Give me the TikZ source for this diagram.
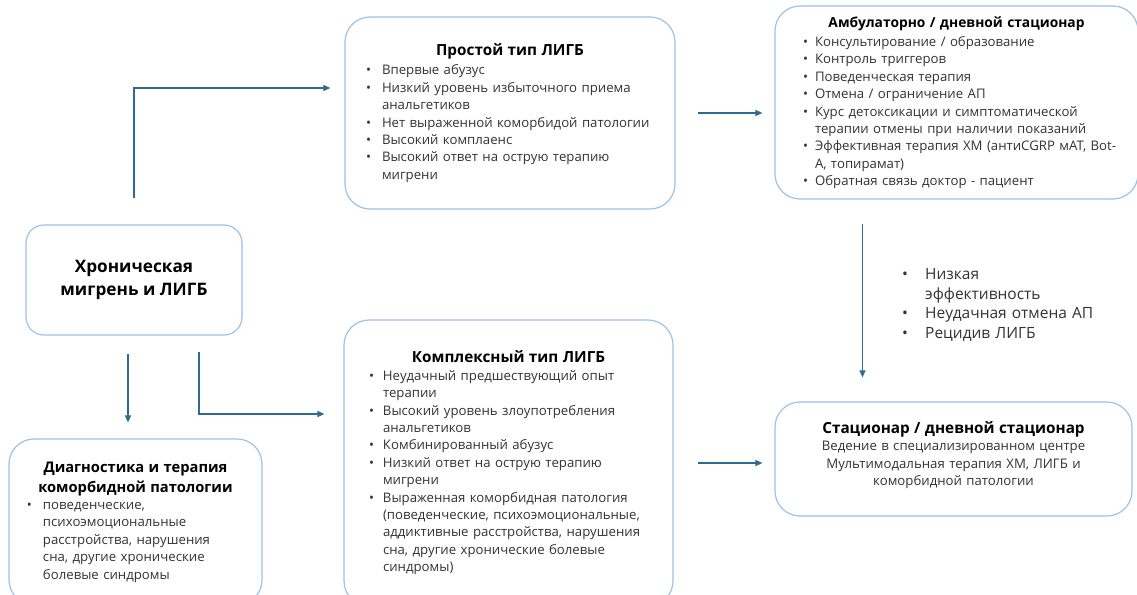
\documentclass[tikz,border=0pt]{standalone}
\usepackage{fontspec}
\setmainfont{Open Sans}
\usetikzlibrary{arrows.meta}
\definecolor{boxblue}{HTML}{9DC3E6}
\definecolor{arrowblue}{HTML}{2E6C8E}
\definecolor{bodygray}{HTML}{333333}
\newcommand{\bitem}[2][16pt]{\par\noindent\hangindent=#1\hangafter=1\makebox[#1][l]{\textbullet}#2\par}
\newcommand{\boxtitle}{\fontsize{15.3}{19}\selectfont\bfseries\color{black}}

\begin{document}
\begin{tikzpicture}[%
		x=1pt,
		y=-1pt,
		box/.style={
			rectangle,
			rounded corners=25pt,
			draw=boxblue,
			line width=1.2pt,
			fill=white,
			text=bodygray,
			align=left,
			font=\fontsize{13.2}{17.4}\selectfont
		},
		chronicbox/.style={
			box,
			rounded corners=18pt,
			align=center,
			text=black,
			font=\fontsize{17.2}{23}\selectfont\bfseries
		},
		centerbox/.style={
			box,
			align=center
		},
		faillabel/.style={
			anchor=north west,
			inner sep=0pt,
			align=left,
			text width=210pt,
			text=bodygray,
			font=\fontsize{15.5}{19.5}\selectfont
		},
		flowarrow/.style={
			draw=arrowblue,
			line width=1.2pt,
			-{Triangle[length=7pt,width=6pt]}
		}]

		\useasboundingbox (0,0) rectangle (1137,594);
		\clip (0,0) rectangle (1137,594);
		\fill[white] (0,0) rectangle (1137,594);

		% LEFT COLUMN

		\node (chronic) [chronicbox, minimum width=216pt, minimum height=110pt] at (134,280) {Хроническая\\ мигрень и ЛИГБ};
		\node (comorbid) [box, text width=217pt, inner xsep=18pt, minimum height=166pt] at (135.5,522) {%
			{\centering\fontsize{14.7}{20}\selectfont\bfseries\color{black} Диагностика и терапия\\ коморбидной патологии\par}
			\bitem{поведенческие,\newline психоэмоциональные\newline расстройства, нарушения\newline сна, другие хронические\newline болевые синдромы}};

		% MIDDLE COLUMN

		\node (simple) [box, text width=288pt, inner xsep=21pt, minimum height=192pt] at (510,113) {%
			{\centering\boxtitle Простой тип ЛИГБ\par}\vspace{2pt}
			\bitem{Впервые абузус}
			\bitem{Низкий уровень избыточного приема\newline анальгетиков}
			\bitem{Нет выраженной коморбидой патологии}
			\bitem{Высокий комплаенс}
			\bitem{Высокий ответ на острую терапию\newline мигрени}};
		\node (complex) [box, text width=279pt, inner xsep=25pt, minimum height=286pt] at (508.5,463) {%
			{\centering\boxtitle Комплексный тип ЛИГБ\par}
			\bitem[14pt]{Неудачный предшествующий опыт\newline терапии}
			\bitem[14pt]{Высокий уровень злоупотребления\newline анальгетиков}
			\bitem[14pt]{Комбинированный абузус}
			\bitem[14pt]{Низкий ответ на острую терапию\newline мигрени}
			\bitem[14pt]{Выраженная коморбидная патология\newline (поведенческие, психоэмоциональные,\newline аддиктивные расстройства, нарушения\newline сна, другие хронические болевые\newline синдромы)}};

		% RIGHT COLUMN

		\node (ambul) [box, text width=307pt, inner xsep=28pt, minimum height=193pt] at (956.5,102.5) {%
			{\centering\fontsize{13.8}{18}\selectfont\bfseries\color{black} Амбулаторно / дневной стационар\par}\vspace{2pt}
			\bitem[12pt]{Консультирование / образование}
			\bitem[12pt]{Контроль триггеров}
			\bitem[12pt]{Поведенческая терапия}
			\bitem[12pt]{Отмена / ограничение АП}
			\bitem[12pt]{Курс детоксикации и симптоматической\newline терапии отмены при наличии показаний}
			\bitem[12pt]{\mbox{Эффективная терапия ХМ (антиCGRP мАТ, Bot-}\newline A, топирамат)}
			\bitem[12pt]{Обратная связь доктор - пациент}};
		\node (station) [centerbox, text width=330pt, minimum width=357pt, minimum height=114pt] at (953.5,459) {%
			{\boxtitle Стационар / дневной стационар\par}
			Ведение в специализированном центре\\ Мультимодальная терапия ХМ, ЛИГБ и\\ коморбидной патологии\par
			\vspace{8pt}};
		\node (fail) [faillabel] at (902,260) {%
			\bitem[23pt]{Низкая\newline эффективность}
			\bitem[23pt]{Неудачная отмена АП}
			\bitem[23pt]{Рецидив ЛИГБ}};

		% LINES

		\draw[flowarrow, shorten <=26pt, shorten >=14pt] (chronic.north) |- ([yshift=25pt]simple.west);
		\draw[flowarrow, shorten <=18pt, shorten >=16pt] ([xshift=-6pt]chronic.south) -- ([xshift=-6pt]chronic.south |- comorbid.north);
		\draw[flowarrow, shorten <=16pt, shorten >=19pt] ([xshift=65pt]chronic.south) |- ([yshift=49pt]complex.west);
		\draw[flowarrow, shorten <=22pt, shorten >=12pt] (simple.east) -- (simple.east -| ambul.west);
		\draw[flowarrow, shorten <=24pt, shorten >=12pt] (complex.east) -- (complex.east -| station.west);
		\draw[flowarrow, shorten <=24pt, shorten >=24pt] ([xshift=-94pt]ambul.south) -- ([xshift=-94pt]ambul.south |- station.north);
\end{tikzpicture}
\end{document}
